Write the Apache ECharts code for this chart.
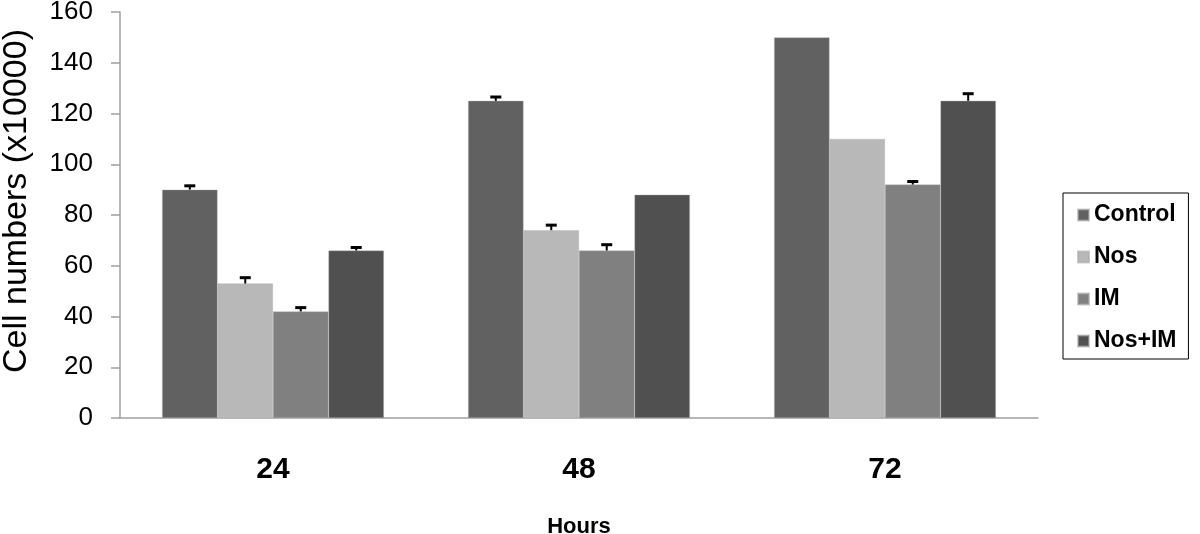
<!DOCTYPE html>
<html><head><meta charset="utf-8">
<script src="https://cdn.jsdelivr.net/npm/echarts@6/dist/echarts.min.js"></script>
<style>html,body{margin:0;padding:0;background:#fff}#c{width:1200px;height:534px}</style>
</head><body><div id="c"></div>
<script>
var categories = ['24', '48', '72'];
var seriesNames = ['Control', 'Nos', 'IM', 'Nos+IM'];
var control = [90, 125, 150];
var nos = [53, 74, 110];
var im = [42, 66, 92];
var nosIm = [66, 88, 125];
var controlErr = [1.5, 1.5, null];
var nosErr = [2.3, 2, null];
var imErr = [1.5, 2.3, 1.2];
var nosImErr = [1.2, null, 2.8];
var yTicks = [0, 20, 40, 60, 80, 100, 120, 140, 160];

var colors = ['#616161', '#b8b8b8', '#808080', '#505050'];
var values = [control, nos, im, nosIm];
var errs = [controlErr, nosErr, imErr, nosImErr];
var gapPct = 0.275;

var errData = [];
values.forEach(function (vals, s) {
  vals.forEach(function (v, c) {
    if (errs[s][c] != null) errData.push([c, s, v, v + errs[s][c]]);
  });
});

var series = seriesNames.map(function (n, i) {
  return {
    name: n, type: 'bar', data: values[i], barGap: '0%', barCategoryGap: (gapPct * 100) + '%',
    itemStyle: { color: colors[i], borderColor: 'rgba(170,170,170,0.6)', borderWidth: 0.6 }
  };
});
series.push({
  type: 'custom', silent: true, z: 5,
  encode: { x: 0, y: 3 },
  data: errData,
  renderItem: function (params, api) {
    var c = api.value(0), s = api.value(1);
    var band = api.size([1, 0])[0];
    var bw = band * (1 - gapPct) / 4;
    var base = api.coord([c, api.value(2)]);
    var top = api.coord([c, api.value(3)]);
    var x = base[0] + bw * (s - 1.5);
    var capHalf = 5.5;
    return {
      type: 'group',
      children: [
        { type: 'line', shape: { x1: x, y1: base[1], x2: x, y2: top[1] }, style: { stroke: '#000', lineWidth: 2 } },
        { type: 'line', shape: { x1: x - capHalf, y1: top[1], x2: x + capHalf, y2: top[1] }, style: { stroke: '#000', lineWidth: 3 } }
      ]
    };
  }
});

var chart = echarts.init(document.getElementById('c'), null, { renderer: 'canvas' });
chart.setOption({
  animation: false,
  color: colors,
  grid: { left: 120, right: 162, top: 12, bottom: 116, containLabel: false, outerBoundsMode: 'none' },
  legend: {
    orient: 'vertical', left: 1063, top: 193, width: 125,
    data: seriesNames,
    icon: 'rect', itemWidth: 11, itemHeight: 11, itemGap: 18,
    padding: [10, 12, 6, 14],
    borderColor: '#000', borderWidth: 1,
    textStyle: { fontFamily: 'Liberation Sans', fontWeight: 'bold', fontSize: 23, lineHeight: 24, color: '#000' }
  },
  xAxis: {
    type: 'category', data: categories,
    name: 'Hours', nameLocation: 'middle', nameGap: 98,
    nameTextStyle: { fontFamily: 'Liberation Sans', fontWeight: 'bold', fontSize: 22, color: '#000' },
    axisLine: { lineStyle: { color: '#a0a0a0', width: 1.5 } },
    axisTick: { show: false },
    axisLabel: { fontFamily: 'Liberation Sans', fontWeight: 'bold', fontSize: 30, color: '#000', margin: 37 }
  },
  yAxis: {
    type: 'value', min: 0, max: 160, interval: 20,
    name: 'Cell numbers (x10000)', nameLocation: 'middle', nameGap: 86, nameRotate: 90,
    nameTextStyle: { fontFamily: 'Liberation Sans', fontSize: 34, color: '#000', padding: [0, 0, 0, 28] },
    axisLine: { show: true, lineStyle: { color: '#a0a0a0', width: 1.5 } },
    axisTick: { show: true, length: 9, lineStyle: { color: '#a0a0a0', width: 1.5 } },
    splitLine: { show: false },
    axisLabel: {
      fontFamily: 'Liberation Sans', fontSize: 26, color: '#000', margin: 27,
      formatter: function (v) { return yTicks.indexOf(v) >= 0 ? String(v) : ''; }
    }
  },
  series: series
});
</script></body></html>
